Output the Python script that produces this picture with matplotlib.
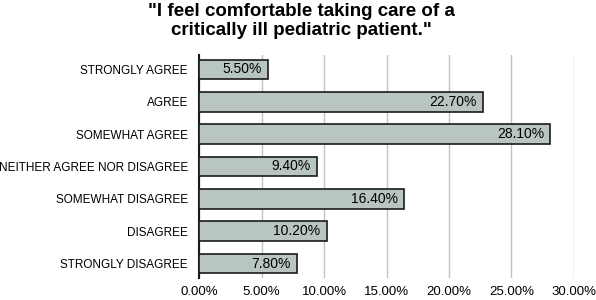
import matplotlib
matplotlib.use('Agg')
import matplotlib.pyplot as plt
from matplotlib.ticker import FuncFormatter

plt.rcParams['font.family'] = ['Liberation Sans', 'DejaVu Sans']

# data
categories = ['STRONGLY AGREE', 'AGREE', 'SOMEWHAT AGREE', 'NEITHER AGREE NOR DISAGREE',
              'SOMEWHAT DISAGREE', 'DISAGREE', 'STRONGLY DISAGREE']
percents = [5.5, 22.7, 28.1, 9.4, 16.4, 10.2, 7.8]
xticks = [0, 5, 10, 15, 20, 25, 30]

fig = plt.figure(figsize=(5.96, 3.0), dpi=100)
ax = fig.add_axes([0.334, 0.073, 0.629, 0.744])

ypos = list(range(len(categories)))
ax.barh(ypos, percents, height=0.6, color='#b9c5c3', edgecolor='#1a1a1a', linewidth=1.2, zorder=3)

for y, v in zip(ypos, percents):
    ax.text(v - 0.5, y, f'{v:.2f}%', ha='right', va='center', fontsize=10, zorder=4)

ax.set_yticks(ypos)
ax.set_yticklabels(categories, fontsize=8.5)
ax.set_ylim(6.45, -0.45)
ax.set_xlim(0, 30)
ax.set_xticks(xticks)
ax.xaxis.set_major_formatter(FuncFormatter(lambda v, p: f'{v:.2f}%'))
ax.tick_params(axis='x', labelsize=9.5, length=0, pad=6)
ax.tick_params(axis='y', length=0, pad=8)
ax.grid(axis='x', color='#b7c6c6', linewidth=1, zorder=0)

for s in ['top', 'right', 'bottom']:
    ax.spines[s].set_visible(False)
ax.spines['left'].set_linewidth(1.5)
ax.spines['left'].set_color('#1a1a1a')

fig.text(0.505, 0.99, '"I feel comfortable taking care of a\ncritically ill pediatric patient."',
         ha='center', va='top', fontsize=13.5, fontweight='bold', linespacing=1.15)

fig.savefig('out.png', dpi=100)
